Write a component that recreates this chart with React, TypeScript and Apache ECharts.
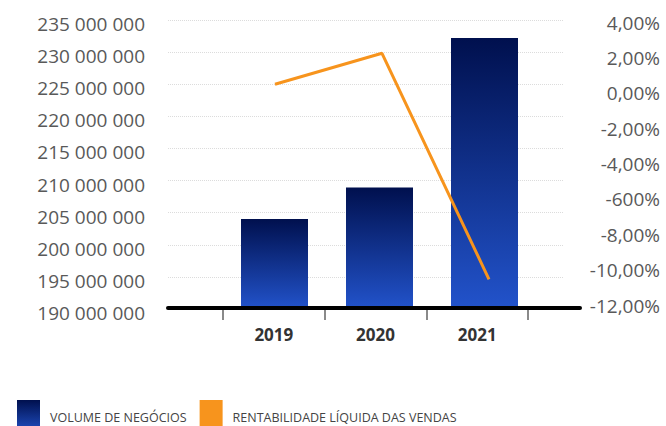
import React, { useEffect, useRef } from "react";
import * as echarts from "echarts";

const categories = ["2019", "2020", "2021"];
const seriesNames = ["VOLUME DE NEGÓCIOS", "RENTABILIDADE LÍQUIDA DAS VENDAS"];
const volumeValues = [204000000, 208900000, 232200000];
const rentabilityValues = [0.51, 2.26, -10.52];
const leftTickLabels = [
  "190 000 000",
  "195 000 000",
  "200 000 000",
  "205 000 000",
  "210 000 000",
  "215 000 000",
  "220 000 000",
  "225 000 000",
  "230 000 000",
  "235 000 000",
];
const rightTickLabels = [
  "-12,00%",
  "-10,00%",
  "-8,00%",
  "-600%",
  "-4,00%",
  "-2,00%",
  "0,00%",
  "2,00%",
  "4,00%",
];

const FONT = "'Open Sans', sans-serif";
const TOP = 20;
const BOTTOM = 117;

export default function App() {
  const ref = useRef<HTMLDivElement>(null);
  useEffect(() => {
    document.body.style.margin = "0";
    if (!ref.current) return;
    const chart = echarts.init(ref.current, undefined, { renderer: "svg" });
    const barGradient = new echarts.graphic.LinearGradient(0, 0, 0, 1, [
      { offset: 0, color: "#00104e" },
      { offset: 1, color: "#2253cb" },
    ]);
    const leftAxisBase = { min: 190000000, max: 235000000, interval: 5000000 };
    const rightAxisBase = { min: -12, max: 4, interval: 2 };
    chart.setOption({
      animation: false,
      grid: [
        { left: 223, right: 138, top: TOP, bottom: BOTTOM },
        { left: 222, right: 129, top: TOP, bottom: BOTTOM },
        { left: 221.5, right: 123.5, top: 22.5, bottom: 120.5 },
        { left: 168, right: 103, top: TOP, bottom: BOTTOM },
        { left: 168, right: 86, top: TOP, bottom: 118.5 },
      ],
      xAxis: [
        {
          gridIndex: 0,
          type: "category",
          data: categories,
          axisLine: { show: false },
          axisTick: { show: true, length: 11, lineStyle: { color: "#8a8a8a", width: 2 } },
          axisLabel: {
            margin: 17,
            fontFamily: FONT,
            fontSize: 17,
            fontWeight: "bold",
            color: "#333333",
          },
          splitLine: { show: false },
        },
        { gridIndex: 1, type: "category", data: categories, show: false },
        { gridIndex: 2, type: "category", data: categories, show: false },
        { gridIndex: 3, type: "category", data: categories, show: false },
        {
          gridIndex: 4,
          type: "value",
          min: 0,
          max: 1,
          z: 10,
          axisLine: { show: true, onZero: false, lineStyle: { color: "#000000", width: 4 } },
          axisTick: { show: false },
          axisLabel: { show: false },
          splitLine: { show: false },
        },
      ],
      yAxis: [
        { gridIndex: 0, type: "value", ...leftAxisBase, show: false },
        { gridIndex: 1, type: "value", ...leftAxisBase, show: false },
        {
          gridIndex: 2,
          type: "value",
          position: "right",
          ...rightAxisBase,
          axisLine: { show: false },
          axisTick: { show: false },
          axisLabel: {
            margin: 117.5,
            align: "right",
            fontFamily: FONT,
            fontSize: 19,
            color: "#595959",
            formatter: (_v: number, i: number) => rightTickLabels[i] ?? "",
          },
          splitLine: { show: false },
        },
        {
          gridIndex: 3,
          type: "value",
          position: "left",
          ...leftAxisBase,
          axisLine: { show: false },
          axisTick: { show: false },
          axisLabel: {
            margin: 23,
            fontFamily: FONT,
            fontSize: 19,
            color: "#595959",
            verticalAlign: "top",
            lineHeight: 8,
            formatter: (_v: number, i: number) => leftTickLabels[i] ?? "",
          },
          splitLine: { show: true, lineStyle: { color: "#dcdcdc", width: 1, type: [1, 1] } },
        },
        { gridIndex: 4, type: "value", min: 0, max: 1, show: false },
      ],
      legend: {
        left: 17,
        top: 400,
        padding: 0,
        itemWidth: 23,
        itemHeight: 34,
        itemGap: 13,
        icon: "rect",
        textStyle: { fontFamily: FONT, fontSize: 12.5, color: "#444444", padding: [0, 0, 0, 5] },
        data: seriesNames,
      },
      series: [
        {
          name: seriesNames[0],
          type: "bar",
          xAxisIndex: 1,
          yAxisIndex: 1,
          barWidth: 67,
          data: volumeValues,
          itemStyle: { color: barGradient },
        },
        {
          name: seriesNames[1],
          type: "line",
          xAxisIndex: 2,
          yAxisIndex: 2,
          data: rentabilityValues,
          showSymbol: false,
          symbol: "none",
          itemStyle: { color: "#f7941d" },
          lineStyle: { color: "#f7941d", width: 3 },
          z: 5,
        },
      ],
    });
    return () => chart.dispose();
  }, []);
  return <div ref={ref} style={{ width: 666, height: 426 }} />;
}
